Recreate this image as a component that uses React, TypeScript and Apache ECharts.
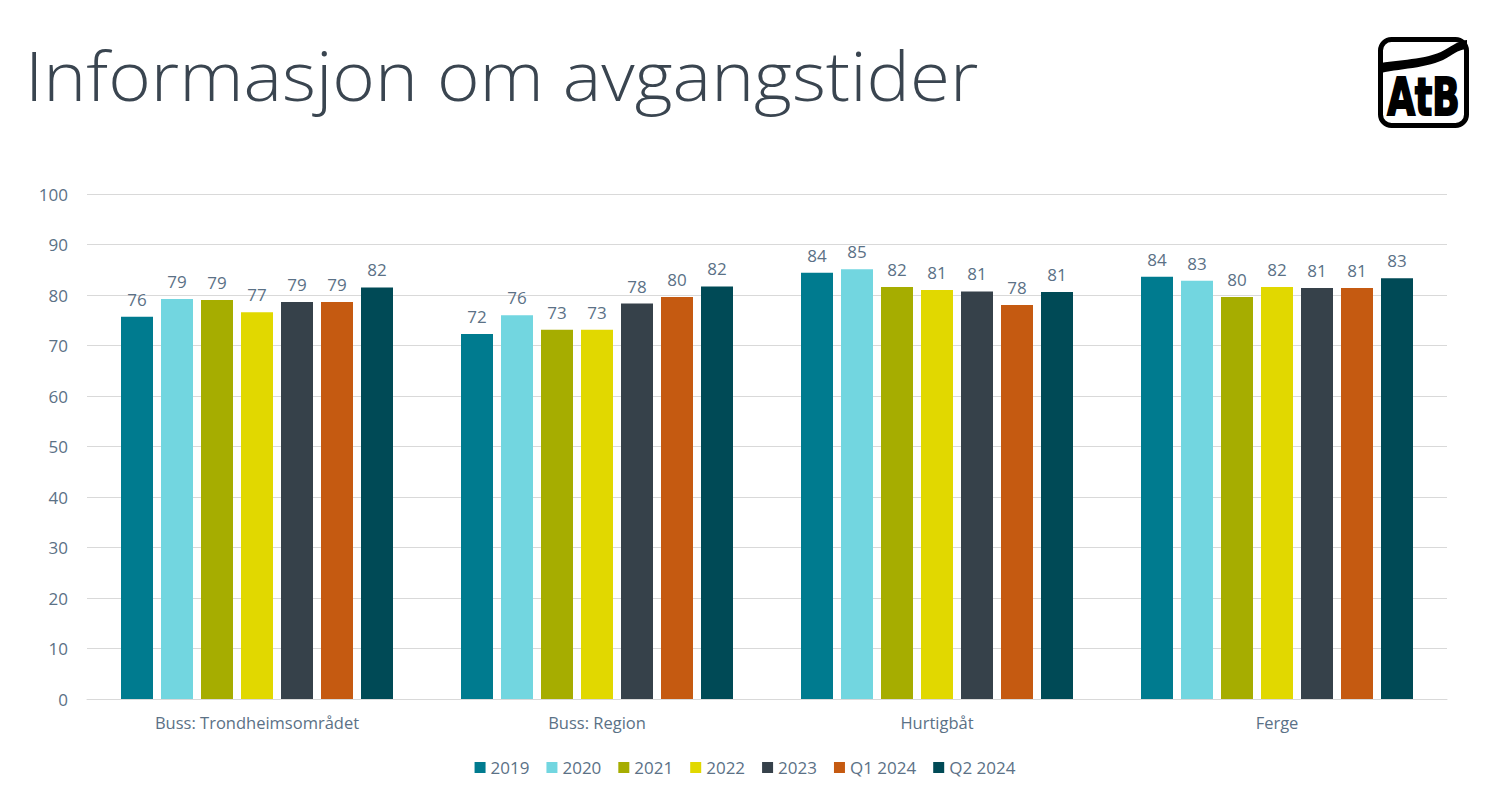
import React, { useEffect, useRef } from "react";
import * as echarts from "echarts";

const categories = ["Buss: Trondheimsområdet", "Buss: Region", "Hurtigbåt", "Ferge"];
const seriesNames = ["2019", "2020", "2021", "2022", "2023", "Q1 2024", "Q2 2024"];
const colors = ["#007B8F", "#72D6E0", "#A6AD00", "#E1D800", "#36414A", "#C55A11", "#004A56"];
const v2019 = [75.7, 72.3, 84.4, 83.6];
const v2020 = [79.2, 76.0, 85.1, 82.8];
const v2021 = [79.0, 73.1, 81.6, 79.6];
const v2022 = [76.6, 73.1, 81.0, 81.6];
const v2023 = [78.6, 78.3, 80.7, 81.4];
const vQ1 = [78.6, 79.6, 78.0, 81.4];
const vQ2 = [81.5, 81.7, 80.6, 83.3];
const allValues = [v2019, v2020, v2021, v2022, v2023, vQ1, vQ2];
const yTicks = [0, 10, 20, 30, 40, 50, 60, 70, 80, 90, 100];

const swoosh =
  "M 3 26 C 25 22, 52 23, 70 11 C 78 6, 84 3, 89 3 L 89 12 C 84 12, 80 14, 72 19 C 55 31, 25 31, 3 36 Z";

echarts.graphic.registerShape("atbSwoosh", echarts.graphic.extendPath(swoosh, {}) as any);

const textColor = "#5B7186";
const font = "'Open Sans', Lato, sans-serif";

export default function App() {
  const ref = useRef<HTMLDivElement>(null);
  useEffect(() => {
    if (!ref.current) return;
    const chart = echarts.init(ref.current, undefined, { renderer: "svg" });
    chart.setOption({
      animation: false,
      backgroundColor: "#ffffff",
      textStyle: { fontFamily: font },
      graphic: [
        {
          type: "text",
          x: 25,
          y: 40,
          scaleX: 1.055,
          style: {
            text: "Informasjon om avgangstider",
            font: "300 69px 'Open Sans', Lato, sans-serif",
            fill: "#3A4550",
          },
        },
        {
          type: "group",
          x: 1378,
          y: 37,
          children: [
            {
              type: "rect",
              shape: { x: 2.5, y: 2.5, width: 86, height: 86, r: 11 },
              style: { fill: "#fff", stroke: "#000", lineWidth: 5 },
            },
            {
              type: "atbSwoosh",
              x: 0,
              y: 0,
              scaleX: 1,
              scaleY: 1,
              style: { fill: "#000" },
            },
            {
              type: "text",
              x: 45.5,
              y: 60,
              scaleX: 1,
              scaleY: 1.3,
              style: {
                text: "AtB",
                font: "bold 40px 'Liberation Sans Narrow', 'DejaVu Sans Condensed', sans-serif",
                fill: "#000",
                stroke: "#000",
                lineWidth: 1.5,
                align: "center",
                verticalAlign: "middle",
              },
            },
          ],
        },
      ],
      legend: {
        top: 754,
        left: "center",
        itemWidth: 11,
        itemHeight: 11,
        itemGap: 17,
        icon: "rect",
        textStyle: { color: textColor, fontSize: 17, fontFamily: font },
        data: seriesNames,
      },
      grid: { left: 87, right: 43, top: 194, bottom: 103 },
      xAxis: {
        type: "category",
        data: categories,
        axisLine: { lineStyle: { color: "#D9D9D9" } },
        axisTick: { show: false },
        axisLabel: { color: textColor, fontSize: 16.5, margin: 15, fontFamily: font },
      },
      yAxis: {
        type: "value",
        min: 0,
        max: 100,
        interval: 10,
        axisLine: { show: false },
        axisTick: { show: false },
        splitLine: { lineStyle: { color: "#D9D9D9", width: 1 } },
        axisLabel: {
          color: textColor,
          fontSize: 17,
          margin: 19,
          fontFamily: font,
          formatter: (v: number) => (yTicks.includes(v) ? String(v) : ""),
        },
      },
      series: seriesNames.map((name, i) => ({
        name,
        type: "bar",
        data: allValues[i],
        barGap: "25%",
        barCategoryGap: "20%",
        itemStyle: { color: colors[i] },
        label: {
          show: true,
          position: "top",
          distance: 9,
          color: textColor,
          fontSize: 17,
          fontFamily: font,
          formatter: (p: any) => String(Math.round(p.value)),
        },
      })),
    });
    return () => chart.dispose();
  }, []);
  return (
    <div
      ref={ref}
      style={{ position: "absolute", left: 0, top: 0, width: 1490, height: 802 }}
    />
  );
}
